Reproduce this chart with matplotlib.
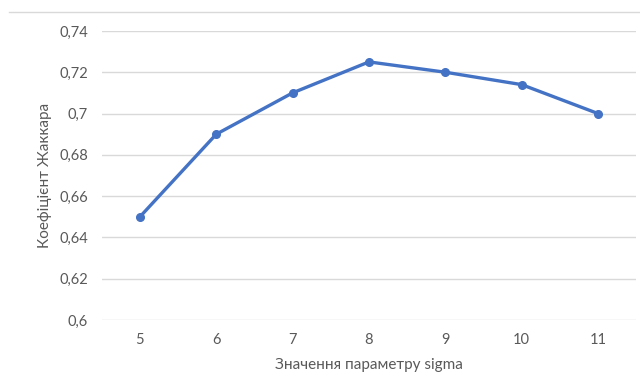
import matplotlib.pyplot as plt
from matplotlib.lines import Line2D
from matplotlib.ticker import FuncFormatter

sigma = ["5", "6", "7", "8", "9", "10", "11"]
jaccard = [0.650, 0.690, 0.710, 0.725, 0.720, 0.714, 0.700]
y_ticks = [0.60, 0.62, 0.64, 0.66, 0.68, 0.70, 0.72, 0.74]

plt.rcParams["font.family"] = ["Lato", "DejaVu Sans"]
text_color = "#595959"

fig = plt.figure(figsize=(6.4, 3.77), dpi=100)
ax = fig.add_axes([0.159, 0.151, 0.835, 0.767])

x = range(len(sigma))
ax.plot(x, jaccard, color="#4472C4", linewidth=2.4, marker="o",
        markersize=5.5, zorder=3)

ax.set_xlim(-0.5, len(sigma) - 0.5)
ax.set_ylim(0.6, 0.74)
ax.set_xticks(list(x))
ax.set_xticklabels(sigma)
ax.set_yticks(y_ticks)


def comma_fmt(v, pos):
    s = f"{v:.2f}".rstrip("0").rstrip(".")
    return s.replace(".", ",")


ax.yaxis.set_major_formatter(FuncFormatter(comma_fmt))
ax.grid(axis="y", color="#D9D9D9", linewidth=1)
ax.set_axisbelow(True)
for side in ax.spines.values():
    side.set_visible(False)
ax.tick_params(length=0, colors=text_color, labelsize=10.5)
ax.tick_params(axis="y", pad=10)
ax.tick_params(axis="x", pad=9)

ax.set_xlabel("Значення параметру sigma", color=text_color, fontsize=11,
              labelpad=8)
ax.set_ylabel("Коефіцієнт Жаккара", color=text_color, fontsize=11,
              labelpad=5)

# outer chart border along the top edge
fig.add_artist(Line2D([9 / 640, 1], [1 - 11.5 / 377, 1 - 11.5 / 377],
                      transform=fig.transFigure, color="#D9D9D9",
                      linewidth=1))

fig.savefig("out.png", dpi=100)
